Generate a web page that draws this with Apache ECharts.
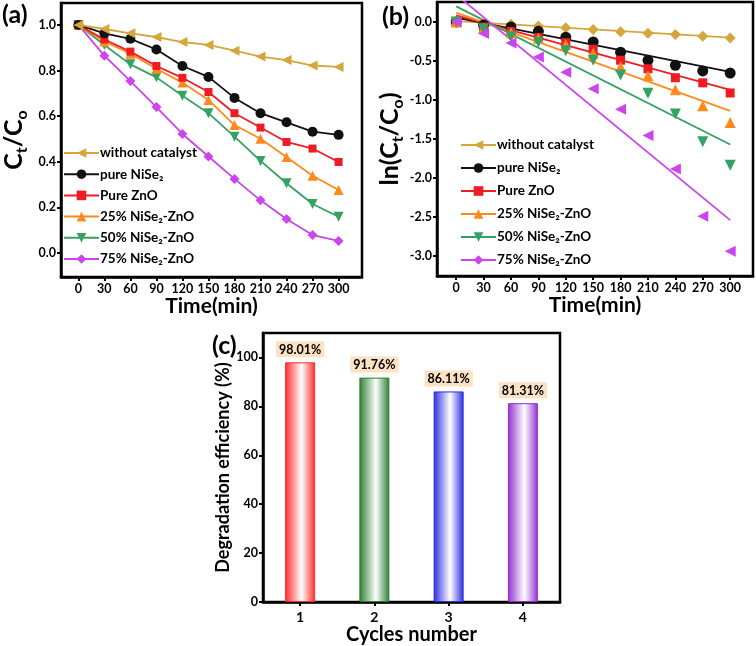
<!DOCTYPE html>
<html>
<head>
<meta charset="utf-8">
<script src="https://cdn.jsdelivr.net/npm/echarts@6/dist/echarts.min.js"></script>
<style>
html,body{margin:0;padding:0;background:#fff;}
#chart{width:756px;height:646px;}
</style>
</head>
<body>
<div id="chart"></div>
<script>
// ---------- data ----------
const times = [0, 30, 60, 90, 120, 150, 180, 210, 240, 270, 300];
const seriesNames = ['without catalyst', 'pure NiSe₂', 'Pure ZnO', '25% NiSe₂-ZnO', '50% NiSe₂-ZnO', '75% NiSe₂-ZnO'];

// (a) Ct/C0
const ratioWithout = [1.0, 0.982, 0.963, 0.947, 0.925, 0.912, 0.887, 0.861, 0.846, 0.822, 0.816];
const ratioNiSe2   = [1.0, 0.963, 0.939, 0.892, 0.820, 0.772, 0.680, 0.613, 0.573, 0.532, 0.518];
const ratioZnO     = [1.0, 0.936, 0.883, 0.820, 0.768, 0.706, 0.613, 0.550, 0.487, 0.458, 0.399];
const ratio25      = [1.0, 0.927, 0.874, 0.808, 0.747, 0.671, 0.561, 0.501, 0.421, 0.339, 0.276];
const ratio50      = [1.0, 0.912, 0.827, 0.770, 0.689, 0.613, 0.510, 0.404, 0.306, 0.215, 0.159];
const ratio75      = [1.0, 0.865, 0.754, 0.640, 0.522, 0.423, 0.325, 0.231, 0.149, 0.079, 0.053];

// (b) ln(Ct/C0) points
const lnWithout = [0, -0.013, -0.030, -0.051, -0.073, -0.098, -0.124, -0.145, -0.162, -0.184, -0.205];
const lnNiSe2   = [0, -0.040, -0.065, -0.120, -0.195, -0.256, -0.388, -0.491, -0.555, -0.627, -0.655];
const lnZnO     = [0, -0.065, -0.124, -0.200, -0.265, -0.350, -0.490, -0.600, -0.715, -0.780, -0.910];
const ln25      = [0, -0.076, -0.135, -0.210, -0.290, -0.400, -0.575, -0.690, -0.870, -1.075, -1.290];
const ln50      = [0, -0.090, -0.190, -0.260, -0.370, -0.490, -0.680, -0.915, -1.180, -1.535, -1.835];
const ln75      = [0, -0.148, -0.270, -0.448, -0.645, -0.855, -1.118, -1.455, -1.886, -2.490, -2.940];

// (b) linear fits: value at t = 0 and at t = 300
const fitTimes = [0, 300];
const fitStart = [0.01, 0.055, 0.085, 0.12, 0.20, 0.35];
const fitEnd   = [-0.20, -0.64, -0.87, -1.14, -1.57, -2.54];

// (c) cycles
const cycles = ['1', '2', '3', '4'];
const efficiency = [98.01, 91.76, 86.11, 81.31];

// tick labels
const timeTicks = [0, 30, 60, 90, 120, 150, 180, 210, 240, 270, 300];
const ratioTicks = [0.0, 0.2, 0.4, 0.6, 0.8, 1.0];
const lnTicks = [-3.0, -2.5, -2.0, -1.5, -1.0, -0.5, 0.0];
const effTicks = [0, 20, 40, 60, 80, 100];

// ---------- style ----------
const FONT = 'Lato';
const colors = ['#D4A63C', '#111111', '#EE1C25', '#FF8A1C', '#34A262', '#CC44EE'];
const symA = [['triangle', 90], ['circle', 0], ['rect', 0], ['triangle', 0], ['triangle', 180], ['diamond', 0]];
const symB = [['diamond', 0], ['circle', 0], ['rect', 0], ['triangle', 0], ['triangle', 180], ['triangle', 90]];
const barColors = ['#FF2A2A', '#2E7D32', '#2B2BE0', '#9130D0'];

const ratios = [ratioWithout, ratioNiSe2, ratioZnO, ratio25, ratio50, ratio75];
const lns = [lnWithout, lnNiSe2, lnZnO, ln25, ln50, ln75];

const tickLabel = {fontFamily: FONT, fontWeight: 'bold', fontSize: 12.5, color: '#000'};
const frameLine = {show: true, onZero: false, lineStyle: {color: '#000', width: 2.5}};
const tickStyle = {show: true, inside: false, length: 4, lineStyle: {color: '#000', width: 2}};

const series = [];
seriesNames.forEach((n, i) => {
  series.push({
    name: n, type: 'line', xAxisIndex: 0, yAxisIndex: 0,
    data: times.map((t, k) => [t, ratios[i][k]]),
    symbol: symA[i][0], symbolRotate: symA[i][1], symbolSize: symA[i][0] === 'rect' ? 8 : 10,
    itemStyle: {color: colors[i]}, lineStyle: {color: colors[i], width: 1.8},
    z: 10 - i
  });
});
seriesNames.forEach((n, i) => {
  series.push({
    name: n, type: 'scatter', xAxisIndex: 1, yAxisIndex: 1,
    data: times.map((t, k) => [t, lns[i][k]]),
    symbol: symB[i][0], symbolRotate: symB[i][1], symbolSize: symB[i][0] === 'rect' ? 9 : 11,
    itemStyle: {color: colors[i], opacity: 1}, z: 5
  });
  series.push({
    name: n, type: 'line', xAxisIndex: 1, yAxisIndex: 1,
    data: [[fitTimes[0], fitStart[i]], [fitTimes[1], fitEnd[i]]],
    showSymbol: false, symbol: 'none', clip: true,
    lineStyle: {color: colors[i], width: 1.8}, itemStyle: {color: colors[i]}, z: 4
  });
});
series.push({
  type: 'bar', xAxisIndex: 2, yAxisIndex: 2, barWidth: 30,
  data: efficiency.map((v, i) => ({
    value: v,
    itemStyle: {
      color: new echarts.graphic.LinearGradient(0, 0, 1, 0, [
        {offset: 0, color: barColors[i]},
        {offset: 0.55, color: '#ffffff'},
        {offset: 1, color: barColors[i]}
      ]),
      borderColor: barColors[i], borderWidth: 1
    }
  })),
  label: {
    show: true, position: 'top', distance: 5,
    formatter: p => p.value.toFixed(2) + '%',
    fontFamily: FONT, fontWeight: 'bold', fontSize: 12.5, color: '#000',
    backgroundColor: '#FCE2C2', padding: [2, 3, 1, 3]
  }
});

const subRich = {
  c: {fontFamily: FONT, fontWeight: 'bold', fontSize: 25, lineHeight: 25, verticalAlign: 'top', color: '#000'},
  s: {fontFamily: FONT, fontWeight: 'bold', fontSize: 16, lineHeight: 29, verticalAlign: 'bottom', color: '#000'}
};
const nameStyle = size => ({fontFamily: FONT, fontWeight: 'bold', fontSize: size, color: '#000'});

const legendCommon = {
  orient: 'vertical', itemWidth: 35, itemHeight: 12, itemGap: 7,
  textStyle: {fontFamily: FONT, fontWeight: 'bold', fontSize: 13.5, color: '#000', padding: [0, 0, 0, -4]},
  data: seriesNames, selectedMode: true
};

const option = {
  backgroundColor: '#fff',
  animation: false,
  grid: [
    {left: 53, top: 3, width: 309, height: 274, show: true, borderColor: '#000', borderWidth: 2.5, containLabel: false},
    {left: 437, top: 2, width: 316, height: 274, show: true, borderColor: '#000', borderWidth: 2.5, containLabel: false},
    {left: 263, top: 333, width: 297, height: 270, show: true, borderColor: '#000', borderWidth: 2.5, containLabel: false}
  ],
  xAxis: [
    {gridIndex: 0, type: 'value', min: -20, max: 327,
     name: 'Time(min)', nameLocation: 'middle', nameGap: 17, nameTextStyle: nameStyle(21),
     axisLine: frameLine, axisTick: Object.assign({customValues: timeTicks}, tickStyle),
     axisLabel: Object.assign({customValues: timeTicks, margin: 5}, tickLabel), splitLine: {show: false}},
    {gridIndex: 1, type: 'value', min: -21, max: 325,
     name: 'Time(min)', nameLocation: 'middle', nameGap: 17, nameTextStyle: nameStyle(21),
     axisLine: frameLine, axisTick: Object.assign({customValues: timeTicks}, tickStyle),
     axisLabel: Object.assign({customValues: timeTicks, margin: 5}, tickLabel), splitLine: {show: false}},
    {gridIndex: 2, type: 'category', data: cycles,
     name: 'Cycles number', nameLocation: 'middle', nameGap: 21, nameTextStyle: nameStyle(20),
     axisLine: frameLine, axisTick: {show: true, alignWithLabel: true, length: 4, lineStyle: {color: '#000', width: 2}},
     axisLabel: Object.assign({margin: 8}, tickLabel, {fontSize: 14}), splitLine: {show: false}}
  ],
  yAxis: [
    {gridIndex: 0, type: 'value', min: -0.105, max: 1.096,
     name: '{c|C}{s|t}{c|/C}{s|o}', nameLocation: 'middle', nameGap: 31, nameRotate: 90,
     nameTextStyle: {rich: subRich},
     axisLine: frameLine, axisTick: Object.assign({customValues: ratioTicks}, tickStyle),
     axisLabel: Object.assign({customValues: ratioTicks, margin: 5, formatter: v => v.toFixed(1)}, tickLabel), splitLine: {show: false}},
    {gridIndex: 1, type: 'value', min: -3.256, max: 0.256,
     name: '{c|ln(C}{s|t}{c|/C}{s|o}{c|)}', nameLocation: 'middle', nameGap: 30, nameRotate: 90,
     nameTextStyle: {rich: subRich},
     axisLine: frameLine, axisTick: Object.assign({customValues: lnTicks}, tickStyle),
     axisLabel: Object.assign({customValues: lnTicks, margin: 5, formatter: v => v.toFixed(1)}, tickLabel), splitLine: {show: false}},
    {gridIndex: 2, type: 'value', min: 0, max: 110,
     name: 'Degradation efficiency (%)', nameLocation: 'middle', nameGap: 23, nameTextStyle: nameStyle(18),
     axisLine: frameLine, axisTick: Object.assign({customValues: effTicks}, tickStyle),
     axisLabel: Object.assign({customValues: effTicks, margin: 5}, tickLabel), splitLine: {show: false}}
  ],
  legend: [
    Object.assign({}, legendCommon, {left: 58, top: 141, itemGap: 7.2}),
    Object.assign({}, legendCommon, {left: 455, top: 133, itemGap: 9})
  ],
  graphic: [
    {type: 'text', left: 2, top: 2, style: {text: '(a)', font: 'bold 25px ' + FONT, fill: '#000'}},
    {type: 'text', left: 382, top: 4, style: {text: '(b)', font: 'bold 25px ' + FONT, fill: '#000'}},
    {type: 'text', left: 212, top: 333, style: {text: '(c)', font: 'bold 25px ' + FONT, fill: '#000'}}
  ],
  series: series
};

const chart = echarts.init(document.getElementById('chart'), null, {renderer: 'canvas'});
chart.setOption(option);
</script>
</body>
</html>
